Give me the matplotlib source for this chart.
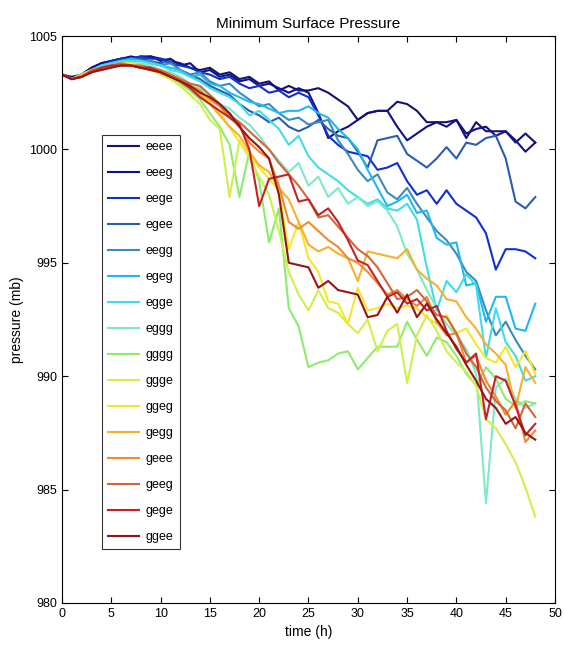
import matplotlib
matplotlib.use('Agg')
import matplotlib.pyplot as plt
import numpy as np

plt.rcParams['font.family'] = ['Liberation Sans', 'DejaVu Sans']

hours = np.arange(0, 49)

names = ['eeee', 'eeeg', 'eege', 'egee', 'eegg', 'egeg', 'egge', 'eggg',
         'gggg', 'ggge', 'ggeg', 'gegg', 'geee', 'geeg', 'gege', 'ggee']

colors = ['#14146e', '#10108c', '#1030d0', '#2a5cb0', '#3a8cbc', '#20b8f0',
          '#40dce8', '#7ee8c8', '#8cec6c', '#cef04a', '#f6e62a', '#f8b02c',
          '#f08a2c', '#d0683a', '#c8202a', '#961414']

eeee = [1003.3, 1003.1, 1003.3, 1003.6, 1003.8, 1003.9, 1004.0, 1004.0, 1004.1, 1004.1,
        1004.0, 1003.9, 1003.8, 1003.6, 1003.5, 1003.6, 1003.3, 1003.4, 1003.1, 1003.2,
        1002.9, 1003.0, 1002.6, 1002.8, 1002.6, 1002.6, 1002.7, 1002.5, 1002.2, 1001.9,
        1001.3, 1001.6, 1001.7, 1001.7, 1002.1, 1002.0, 1001.7, 1001.2, 1001.2, 1001.2,
        1001.3, 1000.5, 1001.2, 1000.8, 1000.8, 1000.8, 1000.3, 1000.7, 1000.3]
eeeg = [1003.3, 1003.2, 1003.3, 1003.6, 1003.8, 1003.9, 1004.0, 1004.1, 1004.0, 1004.1,
        1003.9, 1004.0, 1003.7, 1003.8, 1003.4, 1003.5, 1003.2, 1003.3, 1003.0, 1003.1,
        1002.8, 1002.9, 1002.7, 1002.5, 1002.7, 1002.5, 1001.6, 1000.5, 1000.8, 1001.0,
        1001.3, 1001.6, 1001.7, 1001.7, 1001.0, 1000.4, 1000.7, 1001.0, 1001.2, 1001.0,
        1001.3, 1000.7, 1000.9, 1001.0, 1000.6, 1000.8, 1000.4, 999.9, 1000.3]
eege = [1003.3, 1003.1, 1003.3, 1003.5, 1003.7, 1003.9, 1004.0, 1004.0, 1004.1, 1004.0,
        1004.0, 1003.8, 1003.7, 1003.6, 1003.4, 1003.3, 1003.1, 1003.2, 1002.9, 1002.7,
        1002.8, 1002.5, 1002.6, 1002.3, 1002.5, 1002.3, 1001.5, 1000.6, 1000.2, 999.9,
        999.8, 999.7, 999.1, 999.2, 999.4, 998.6, 998.0, 998.2, 997.6, 998.2,
        997.6, 997.3, 997.0, 996.3, 994.7, 995.6, 995.6, 995.5, 995.2]
egee = [1003.3, 1003.1, 1003.3, 1003.5, 1003.7, 1003.8, 1003.9, 1004.0, 1004.0, 1003.9,
        1003.8, 1003.9, 1003.5, 1003.3, 1003.1, 1002.8, 1002.6, 1002.4, 1002.0, 1001.7,
        1001.5, 1001.2, 1001.4, 1001.0, 1000.8, 1001.0, 1001.3, 1000.9, 1000.6, 1000.5,
        999.9, 999.2, 1000.4, 1000.5, 1000.6, 999.8, 999.5, 999.2, 999.6, 1000.1,
        999.6, 1000.3, 1000.2, 1000.5, 1000.6, 999.6, 997.7, 997.4, 997.9]
eegg = [1003.3, 1003.1, 1003.3, 1003.5, 1003.7, 1003.8, 1003.9, 1004.0, 1003.9, 1003.9,
        1003.7, 1003.8, 1003.5, 1003.3, 1003.4, 1003.0, 1002.8, 1002.9, 1002.5, 1002.2,
        1001.9, 1002.0, 1001.6, 1001.3, 1001.4, 1001.1, 1001.2, 1001.3, 1000.4, 999.8,
        999.1, 998.6, 998.9, 998.1, 997.8, 998.3, 997.6, 997.0, 996.4, 996.0,
        995.4, 994.6, 994.2, 992.9, 991.8, 992.4, 991.6, 990.9, 990.3]
egeg = [1003.3, 1003.1, 1003.3, 1003.5, 1003.7, 1003.8, 1003.9, 1004.0, 1003.9, 1003.8,
        1003.7, 1003.6, 1003.5, 1003.2, 1003.3, 1002.9, 1002.8, 1002.5, 1002.3, 1002.1,
        1002.0, 1001.8, 1001.6, 1001.7, 1001.7, 1001.9, 1001.6, 1001.4, 1000.9, 1000.5,
        1000.0, 999.1, 998.3, 997.5, 997.7, 998.0, 997.2, 997.3, 996.1, 995.8,
        995.9, 994.0, 994.1, 992.4, 993.5, 993.5, 992.1, 992.0, 993.2]
egge = [1003.3, 1003.1, 1003.3, 1003.5, 1003.7, 1003.8, 1003.9, 1003.9, 1003.9, 1003.8,
        1003.7, 1003.5, 1003.4, 1003.2, 1003.0, 1002.7, 1002.5, 1002.3, 1002.0, 1001.5,
        1001.7, 1001.3, 1000.9, 1000.2, 1000.6, 999.7, 999.2, 998.9, 998.6, 998.2,
        997.9, 997.6, 997.8, 997.4, 997.3, 997.6, 996.9, 994.8, 992.9, 994.2,
        993.7, 994.5, 994.0, 990.8, 993.0, 991.5, 990.9, 989.8, 990.0]
eggg = [1003.3, 1003.1, 1003.2, 1003.5, 1003.6, 1003.7, 1003.8, 1003.8, 1003.8, 1003.7,
        1003.5, 1003.4, 1003.2, 1002.9, 1002.7, 1002.4, 1002.0, 1001.8, 1001.4, 1001.1,
        1000.6, 1000.0, 999.5, 999.0, 999.4, 998.4, 998.8, 997.9, 998.3, 997.6,
        997.9, 997.5, 997.7, 997.3, 996.6, 995.4, 994.7, 993.8, 993.0, 992.3,
        991.8, 991.2, 990.1, 984.4, 989.5, 989.9, 989.0, 988.6, 988.8]
gggg = [1003.3, 1003.1, 1003.3, 1003.5, 1003.6, 1003.7, 1003.7, 1003.8, 1003.7, 1003.6,
        1003.4, 1003.2, 1002.9, 1002.6, 1002.2, 1001.6, 1001.0, 1000.2, 997.9, 999.9,
        998.6, 995.9, 997.4, 993.0, 992.2, 990.4, 990.6, 990.7, 991.0, 991.1,
        990.3, 990.8, 991.3, 991.3, 991.3, 992.4, 991.6, 990.9, 991.7, 991.5,
        990.9, 990.1, 989.6, 990.4, 989.9, 989.0, 988.7, 988.9, 988.8]
ggge = [1003.3, 1003.1, 1003.3, 1003.4, 1003.6, 1003.7, 1003.7, 1003.7, 1003.6, 1003.5,
        1003.3, 1003.1, 1002.8, 1002.4, 1002.0, 1001.3, 1000.9, 997.9, 1000.4, 999.6,
        998.8, 998.0, 996.4, 994.6, 993.6, 992.9, 993.8, 993.0, 992.8, 992.3,
        991.9, 992.5, 991.1, 992.0, 992.3, 989.7, 991.8, 992.7, 992.0, 991.1,
        990.6, 990.2, 989.6, 988.1, 987.7, 987.0, 986.2, 985.1, 983.8]
ggeg = [1003.3, 1003.1, 1003.3, 1003.5, 1003.6, 1003.7, 1003.8, 1003.8, 1003.7, 1003.6,
        1003.5, 1003.3, 1003.1, 1002.8, 1002.5, 1002.1, 1001.6, 1001.0, 1000.3, 999.8,
        999.2, 998.7, 998.2, 995.6, 996.8, 995.2, 994.6, 993.3, 993.2, 992.3,
        993.9, 992.9, 993.0, 993.2, 993.0, 993.1, 993.0, 992.6, 992.3, 992.7,
        991.9, 992.1, 991.4, 990.8, 990.6, 991.3, 990.4, 991.1, 990.1]
gegg = [1003.3, 1003.1, 1003.3, 1003.4, 1003.6, 1003.7, 1003.7, 1003.7, 1003.6, 1003.6,
        1003.4, 1003.2, 1003.0, 1002.7, 1002.4, 1002.0, 1001.5, 1001.0, 1000.6, 999.9,
        999.3, 999.0, 998.3, 997.8, 996.8, 995.8, 995.5, 995.7, 995.4, 995.2,
        994.2, 995.5, 995.4, 995.3, 995.2, 995.6, 994.7, 994.3, 994.0, 993.4,
        993.3, 992.6, 992.1, 991.4, 991.0, 990.5, 988.6, 990.4, 989.7]
geee = [1003.3, 1003.1, 1003.2, 1003.4, 1003.6, 1003.7, 1003.7, 1003.7, 1003.6, 1003.5,
        1003.4, 1003.2, 1003.1, 1002.8, 1002.6, 1002.2, 1001.9, 1001.4, 1001.0, 1000.3,
        999.9, 999.6, 998.4, 996.8, 996.5, 996.8, 996.4, 996.0, 995.7, 995.2,
        995.0, 994.6, 994.1, 993.6, 993.8, 993.4, 993.1, 993.5, 992.4, 991.8,
        991.9, 990.6, 990.9, 989.8, 989.1, 988.3, 988.9, 987.1, 987.6]
geeg = [1003.3, 1003.1, 1003.2, 1003.5, 1003.6, 1003.7, 1003.8, 1003.7, 1003.7, 1003.6,
        1003.5, 1003.3, 1003.1, 1002.9, 1002.8, 1002.4, 1002.0, 1001.5, 1001.2, 1000.8,
        1000.4, 1000.0, 999.4, 998.9, 998.4, 997.8, 997.0, 997.1, 996.6, 996.1,
        995.6, 995.3, 994.8, 994.1, 993.4, 993.5, 993.8, 993.3, 992.7, 992.6,
        991.9, 991.0, 990.4, 989.5, 988.9, 988.5, 987.7, 988.8, 988.2]
gege = [1003.3, 1003.1, 1003.2, 1003.4, 1003.6, 1003.7, 1003.7, 1003.7, 1003.6, 1003.6,
        1003.4, 1003.2, 1003.0, 1002.7, 1002.3, 1002.0, 1001.7, 1001.4, 1001.1, 1000.0,
        997.5, 998.7, 998.8, 998.9, 997.7, 997.8, 997.1, 997.4, 996.8, 996.0,
        995.1, 994.9, 994.2, 993.5, 993.7, 993.2, 993.4, 992.9, 993.1, 992.0,
        991.2, 990.6, 991.0, 988.1, 990.0, 989.8, 988.7, 987.4, 987.9]
ggee = [1003.3, 1003.1, 1003.2, 1003.4, 1003.5, 1003.6, 1003.7, 1003.7, 1003.6, 1003.5,
        1003.4, 1003.2, 1003.0, 1002.8, 1002.5, 1002.3, 1002.0, 1001.6, 1001.0, 1000.5,
        1000.1, 999.6, 998.0, 995.0, 994.9, 994.8, 993.9, 994.2, 993.8, 993.7,
        993.6, 992.6, 992.7, 993.5, 992.8, 993.6, 992.6, 993.2, 992.5, 991.9,
        991.3, 990.5, 989.8, 989.0, 988.6, 987.9, 988.2, 987.5, 987.2]

series = [eeee, eeeg, eege, egee, eegg, egeg, egge, eggg,
          gggg, ggge, ggeg, gegg, geee, geeg, gege, ggee]

fig = plt.figure(figsize=(5.65, 6.57), dpi=100)
ax = fig.add_axes([0.1097, 0.0822, 0.8726, 0.863])

for name, col, vals in zip(names, colors, series):
    ax.plot(hours[:len(vals)], vals, color=col, lw=1.5, label=name)

ax.set_xlim(0, 50)
ax.set_ylim(980, 1005)
ax.set_xticks(np.arange(0, 51, 5))
ax.set_yticks(np.arange(980, 1006, 5))
ax.tick_params(direction='in', top=True, right=True, labelsize=9, length=4)
for sp in ax.spines.values():
    sp.set_linewidth(0.8)

ax.set_title('Minimum Surface Pressure', fontsize=11)
ax.set_xlabel('time (h)', fontsize=10)
ax.set_ylabel('pressure (mb)', fontsize=10)

# legend box sits at roughly x 102-180, y 136-550 px in the reference
leg = ax.legend(loc='upper left', bbox_to_anchor=(0.081, 0.826), fontsize=9,
                frameon=True, fancybox=False, edgecolor='black', handlelength=2.5,
                labelspacing=1.12, borderpad=0.5, handletextpad=0.5,
                borderaxespad=0.0)
leg.get_frame().set_linewidth(0.8)

fig.savefig('out.png', dpi=100)
